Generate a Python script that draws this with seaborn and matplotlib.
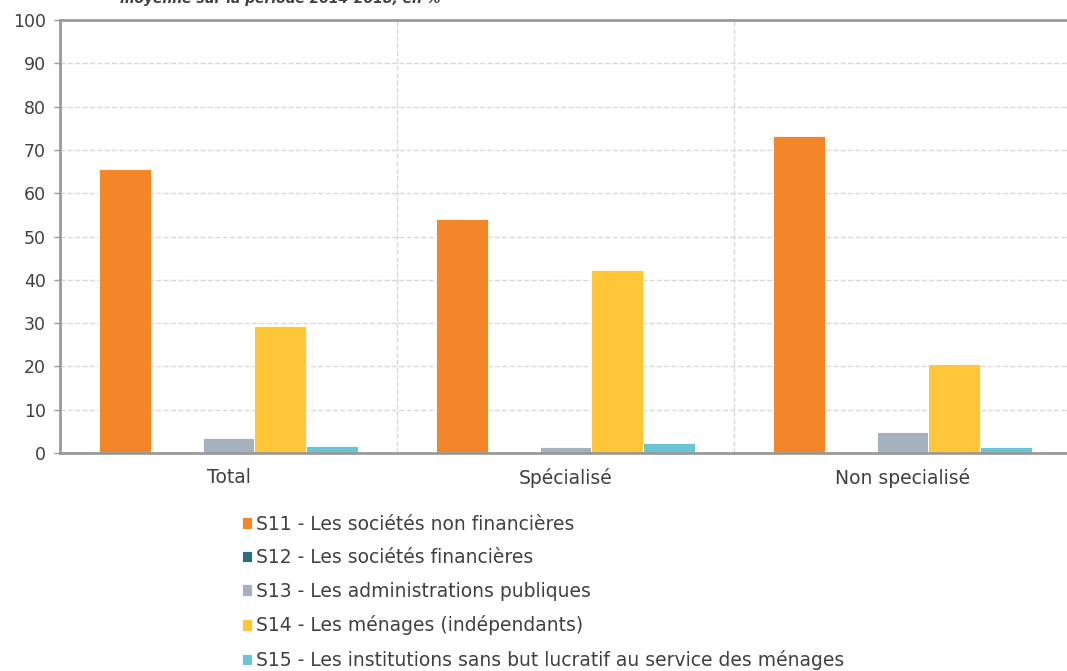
import pandas as pd
import seaborn as sns
import matplotlib.pyplot as plt

sns.set_style("white")
plt.rcParams["font.family"] = ["DejaVu Sans"]

groups = ["Total", "Spécialisé", "Non specialisé"]
sectors = ["S11 - Les sociétés non financières",
           "S12 - Les sociétés financières",
           "S13 - Les administrations publiques",
           "S14 - Les ménages (indépendants)",
           "S15 - Les institutions sans but lucratif au service des ménages"]
s11 = [65.5, 54.0, 73.2]
s12 = [0.0, 0.0, 0.0]
s13 = [3.4, 1.4, 4.8]
s14 = [29.4, 42.3, 20.5]
s15 = [1.7, 2.3, 1.4]
colors = ["#F4862A", "#2E6C84", "#A6B1BE", "#FFC63A", "#6BC4D2"]

rows = []
for name, vals in zip(sectors, [s11, s12, s13, s14, s15]):
    for g, v in zip(groups, vals):
        rows.append({"groupe": g, "secteur": name, "valeur": v})
df = pd.DataFrame(rows)

text_color = "#404040"
spine_color = "#9a9a9a"

fig = plt.figure(figsize=(10.67, 6.71), dpi=100)
ax = fig.add_axes([60 / 1067, 218 / 671, 1011 / 1067, 433 / 671])

sns.barplot(data=df, x="groupe", y="valeur", hue="secteur",
            palette=colors, saturation=1, width=0.77,
            edgecolor="white", linewidth=0.6, ax=ax)

ax.set_xlim(-0.5, 2.5)
ax.set_ylim(0, 100)
ax.set_yticks(range(0, 101, 10))
ax.set_xlabel("")
ax.set_ylabel("")

ax.set_xticks([-0.5, 0.5, 1.5, 2.5], minor=True)
ax.tick_params(axis="x", which="major", length=0, pad=11,
               labelsize=13.5, labelcolor=text_color)
ax.tick_params(axis="x", which="minor", length=7, width=2,
               color=spine_color, direction="out")
ax.tick_params(axis="y", length=4, width=1, color=spine_color,
               left=True, pad=6, labelsize=12.5, labelcolor=text_color)

ax.grid(axis="y", which="major", ls="--", color="#d9d9d9", lw=1)
ax.grid(axis="x", which="minor", ls="--", color="#d9d9d9", lw=1)
ax.set_axisbelow(True)

for side in ["left", "bottom", "top"]:
    ax.spines[side].set_color(spine_color)
    ax.spines[side].set_linewidth(2)
ax.spines["right"].set_visible(False)

handles, labels = ax.get_legend_handles_labels()
ax.legend_.remove()
fig.legend(handles, labels, loc="upper left",
           bbox_to_anchor=(234 / 1067, 1 - 507 / 671),
           frameon=False, fontsize=13.5, handlelength=0.58,
           handleheight=0.58, handletextpad=0.2, labelspacing=0.78,
           labelcolor=text_color, borderaxespad=0)

fig.text(120 / 1067, 1 - 3 / 671, "moyenne sur la période 2014-2018, en %",
         fontsize=10, fontweight="bold", fontstyle="italic",
         color=text_color, va="baseline", ha="left")

fig.savefig("out.png", dpi=100)
